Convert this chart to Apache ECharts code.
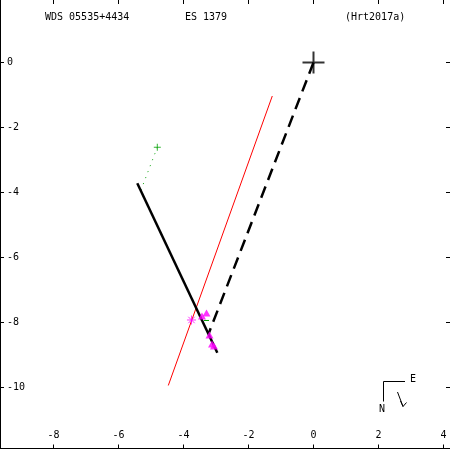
<!DOCTYPE html>
<html>
<head>
<meta charset="utf-8">
<script src="https://cdn.jsdelivr.net/npm/echarts@6/dist/echarts.min.js"></script>
<style>html,body{margin:0;padding:0;background:#fff}#c{width:450px;height:450px}</style>
</head>
<body>
<div id="c"></div>
<script>
// ---- data (arcsec offsets, x = RA-like, y = Dec-like) ----
var xTicks = [-8, -6, -4, -2, 0, 2, 4];
var yTicks = [-10, -8, -6, -4, -2, 0];
var titleWds = 'WDS 05535+4434';
var titleDisc = 'ES 1379';
var titleRef = '(Hrt2017a)';
var primary = [[0, 0]];
var firstObs = [[-4.806, -2.609]];
var firstObsLink = [[-4.806, -2.609], [-5.308, -3.923]];
var orbitArc = [[-5.422, -3.717], [-2.960, -8.929]];
var nodeLine = [[-1.268, -1.031], [-4.468, -9.938]];
var radiusLine = [[0, 0], [-3.231, -8.354]];
var obsStar = [[-3.754, -7.923]];
var obsTri = [[-3.292, -7.708], [-3.431, -7.800], [-3.200, -8.385], [-3.123, -8.662], [-3.062, -8.723]];
var residual = [[-3.369, -7.938], [-3.215, -7.938]];

var FONT = 'DejaVu Sans Mono';
var chart = echarts.init(document.getElementById('c'), null, {renderer: 'canvas'});
var XMIN = -9.646, XMAX = 4.2, YMIN = -11.877, YMAX = 1.923;
function ax(pos, show, ticks, isX) {
  return {
    type: 'value', position: pos, min: isX ? XMIN : YMIN, max: isX ? XMAX : YMAX,
    axisLine: {show: show, onZero: false, lineStyle: {color: '#000', width: 1}},
    axisTick: {show: true, inside: true, length: 4, customValues: ticks, lineStyle: {color: '#000', width: 1}},
    axisLabel: {show: show, inside: true, customValues: ticks, margin: isX ? 8 : 7,
      fontFamily: FONT, fontSize: 10, color: '#000'},
    splitLine: {show: false}
  };
}
var line = function (data, color, width, type, z) {
  return {type: 'line', data: data, symbol: 'none', silent: true, z: z || 2,
    lineStyle: {color: color, width: width, type: type || 'solid', cap: 'butt'}};
};
chart.setOption({
  animation: false,
  grid: {left: 0, right: 0, top: 0, bottom: 1.5, containLabel: false},
  xAxis: [ax('bottom', true, xTicks, true), ax('top', false, xTicks, true)],
  yAxis: [ax('left', true, yTicks, false), ax('right', false, yTicks, false)],
  series: [
    line(nodeLine, '#ff0000', 1),
    line(radiusLine, '#000', 2.5, [12, 7]),
    line(firstObsLink, '#00a000', 1, [1, 5.4]),
    line(orbitArc, '#000', 2.5),
    line(residual, '#00a000', 1, 'solid', 5),
    {type: 'scatter', data: obsTri, symbol: 'triangle', symbolSize: [8, 7],
     itemStyle: {color: '#ff00ff'}, z: 4},
    {type: 'scatter', data: obsStar, symbol: 'path://M0,4.5L9,4.5M4.5,0L4.5,9M1.3,1.3L7.7,7.7M7.7,1.3L1.3,7.7',
     symbolSize: 9, itemStyle: {color: 'rgba(0,0,0,0)', borderColor: '#ff00ff', borderWidth: 1}, z: 4},
    {type: 'scatter', data: firstObs, symbol: 'path://M3,0H4V3H7V4H4V7H3V4H0V3H3Z', symbolSize: 7,
     itemStyle: {color: '#00a000'}, z: 4},
    {type: 'scatter', data: primary, symbol: 'path://M10,0H12V10H22V12H12V22H10V12H0V10H10Z', symbolSize: 22,
     itemStyle: {color: '#000'}, z: 6}
  ],
  graphic: [
    {type: 'text', left: 45, top: 12, style: {text: titleWds, font: '10px "' + FONT + '"', fill: '#000'}},
    {type: 'text', left: 185, top: 12, style: {text: titleDisc, font: '10px "' + FONT + '"', fill: '#000'}},
    {type: 'text', left: 345, top: 12, style: {text: titleRef, font: '10px "' + FONT + '"', fill: '#000'}},
    {type: 'polyline', shape: {points: [[383.5, 401.5], [383.5, 381.5], [405, 381.5]]}, style: {stroke: '#000', lineWidth: 1, fill: null}},
    {type: 'text', left: 410, top: 374, style: {text: 'E', font: '10px "' + FONT + '"', fill: '#000'}},
    {type: 'text', left: 379, top: 404, style: {text: 'N', font: '10px "' + FONT + '"', fill: '#000'}},
    {type: 'line', shape: {x1: 397.5, y1: 392, x2: 403, y2: 406.5}, style: {stroke: '#000', lineWidth: 1}},
    {type: 'polyline', shape: {points: [[400.5, 401], [403, 406.5], [406.5, 402.5]]}, style: {stroke: '#000', lineWidth: 1, fill: null}}
  ]
});
</script>
</body>
</html>
